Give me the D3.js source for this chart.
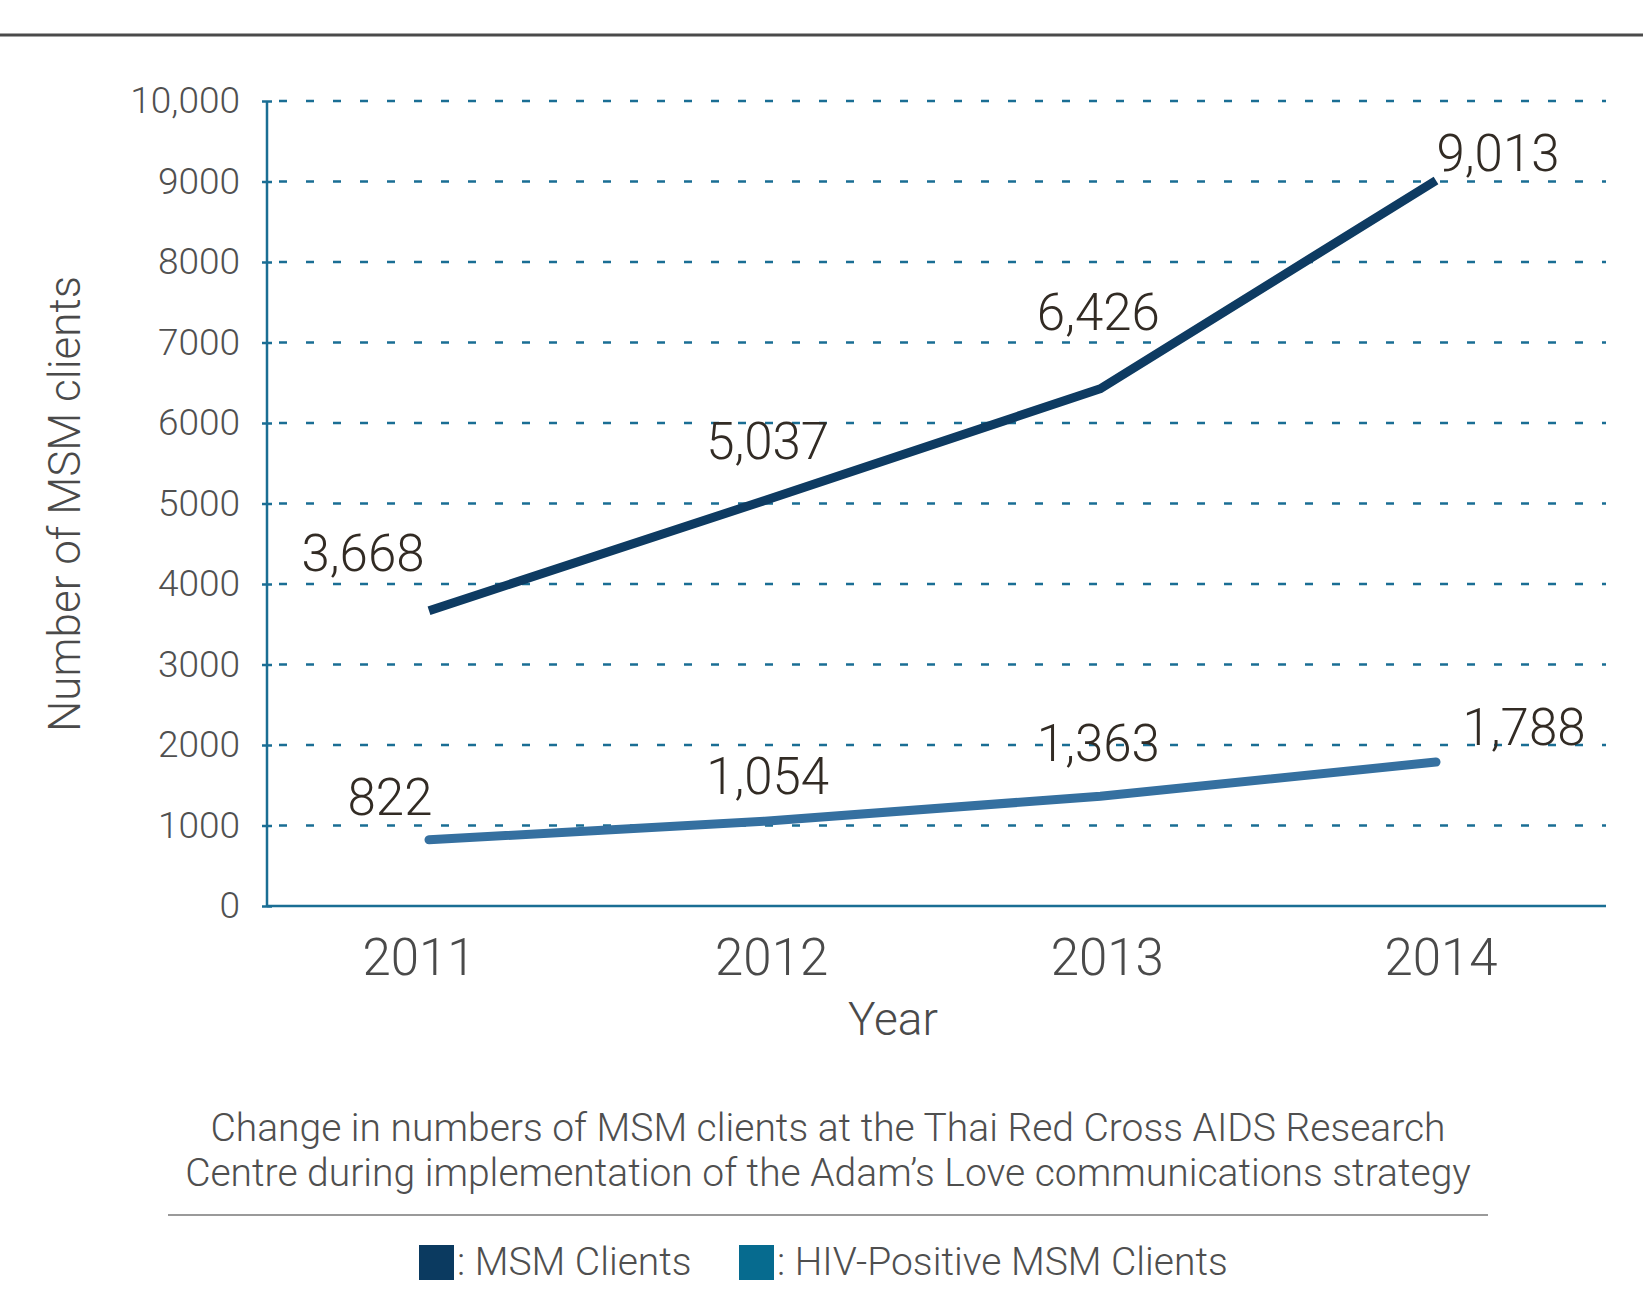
<!DOCTYPE html>
<html>
<head>
<meta charset="utf-8">
<script src="https://cdn.jsdelivr.net/npm/d3@7"></script>
<style>
  body { margin: 0; background: #fff; }
  svg text { font-family: Roboto, "Liberation Sans", sans-serif; font-weight: 300; }
</style>
</head>
<body>
<div id="chart"></div>
<script>
// data
const years = [2011, 2012, 2013, 2014];
const msmClients = [3668, 5037, 6426, 9013];
const hivClients = [822, 1054, 1363, 1788];
const yTicks = [0, 1000, 2000, 3000, 4000, 5000, 6000, 7000, 8000, 9000, 10000];
const seriesNames = ["MSM Clients", "HIV-Positive MSM Clients"];
const captionLines = [
  "Change in numbers of MSM clients at the Thai Red Cross AIDS Research",
  "Centre during implementation of the Adam\u2019s Love communications strategy"
];

// label nudges (px) relative to each point
const msmLabelOffset = [[-66, -40], [3, -42], [-2, -59], [62, -9]];
const hivLabelOffset = [[-39, -25], [3, -27], [-2, -35], [88, -17]];
const yearLabelNudge = [-10, 7, 7, 5];

var width = 1643, height = 1294;
var axisColor = "#1a6e94";

var svg = d3.select("#chart").append("svg")
  .attr("width", width)
  .attr("height", height);

// top rule
svg.append("line")
  .attr("x1", 0).attr("x2", width)
  .attr("y1", 35).attr("y2", 35)
  .attr("stroke", "#4a4a4a").attr("stroke-width", 3);

var x = d3.scaleLinear().domain([2011, 2014]).range([429, 1436]);
var y = d3.scaleLinear().domain([0, 10000]).range([906, 101]);
var left = 267, right = 1606;

// gridlines
svg.append("g").selectAll("line")
  .data(yTicks.filter(d => d > 0))
  .enter().append("line")
  .attr("x1", left + 12).attr("x2", right)
  .attr("y1", d => y(d)).attr("y2", d => y(d))
  .attr("stroke", axisColor)
  .attr("stroke-width", 2.5)
  .attr("stroke-dasharray", "8,19");

// y axis
var yAxis = d3.axisLeft(y)
  .tickValues(yTicks)
  .tickSize(5)
  .tickPadding(22)
  .tickFormat(d => d === 10000 ? "10,000" : String(d));

var gy = svg.append("g")
  .attr("transform", "translate(" + left + ",0)")
  .call(yAxis);
gy.select(".domain").attr("stroke", axisColor).attr("stroke-width", 2.5)
  .attr("d", "M0," + y(10000) + "V" + y(0));
gy.selectAll(".tick line").attr("stroke", axisColor).attr("stroke-width", 2.5)
  .attr("x1", 5);
gy.selectAll(".tick text")
  .attr("fill", "#505050")
  .style("font-size", "37px");

// x axis line
svg.append("line")
  .attr("x1", left).attr("x2", right)
  .attr("y1", y(0)).attr("y2", y(0))
  .attr("stroke", axisColor).attr("stroke-width", 2.5);

// x labels
svg.append("g").selectAll("text")
  .data(years)
  .enter().append("text")
  .attr("x", (d, i) => x(d) + yearLabelNudge[i])
  .attr("y", 975)
  .attr("text-anchor", "middle")
  .attr("fill", "#4a4a4a")
  .style("font-size", "51px")
  .text(d => d);

// axis titles
svg.append("text")
  .attr("x", 893).attr("y", 1035)
  .attr("text-anchor", "middle")
  .attr("fill", "#4a4a4a")
  .style("font-size", "46px")
  .text("Year");

svg.append("text")
  .attr("transform", "translate(80,504) rotate(-90)")
  .attr("text-anchor", "middle")
  .attr("fill", "#4a4a4a")
  .style("font-size", "44px")
  .text("Number of MSM clients");

// lines
var line = d3.line()
  .x((d, i) => x(years[i]))
  .y(d => y(d));

svg.append("path")
  .datum(msmClients)
  .attr("d", line)
  .attr("fill", "none")
  .attr("stroke", "#0e3b62")
  .attr("stroke-width", 9);

svg.append("path")
  .datum(hivClients)
  .attr("d", line)
  .attr("fill", "none")
  .attr("stroke", "#3570a0")
  .attr("stroke-width", 9)
  .attr("stroke-linecap", "round");

// value labels
function drawLabels(vals, offs) {
  svg.append("g").selectAll("text")
    .data(vals)
    .enter().append("text")
    .attr("x", (d, i) => x(years[i]) + offs[i][0])
    .attr("y", (d, i) => y(d) + offs[i][1])
    .attr("text-anchor", "middle")
    .attr("fill", "#322b24")
    .style("font-size", "51px")
    .text(d => d3.format(",")(d));
}
drawLabels(msmClients, msmLabelOffset);
drawLabels(hivClients, hivLabelOffset);

// caption
svg.append("g").selectAll("text")
  .data(captionLines)
  .enter().append("text")
  .attr("x", 828)
  .attr("y", (d, i) => 1141 + i * 45)
  .attr("text-anchor", "middle")
  .attr("fill", "#4f4f4f")
  .style("font-size", "39px")
  .text(d => d);

svg.append("line")
  .attr("x1", 168).attr("x2", 1488)
  .attr("y1", 1215).attr("y2", 1215)
  .attr("stroke", "#9a9a9a").attr("stroke-width", 2);

// legend
var legendColors = ["#0b3a60", "#066b8f"];
var legendX = [419, 739];
var lg = svg.append("g").selectAll("g")
  .data(seriesNames)
  .enter().append("g")
  .attr("transform", (d, i) => "translate(" + legendX[i] + ",1245)");
lg.append("rect")
  .attr("width", 35).attr("height", 35)
  .attr("fill", (d, i) => legendColors[i]);
lg.append("text")
  .attr("x", 38).attr("y", 30)
  .attr("fill", "#4f4f4f")
  .style("font-size", "39px")
  .text(d => ": " + d);
</script>
</body>
</html>
